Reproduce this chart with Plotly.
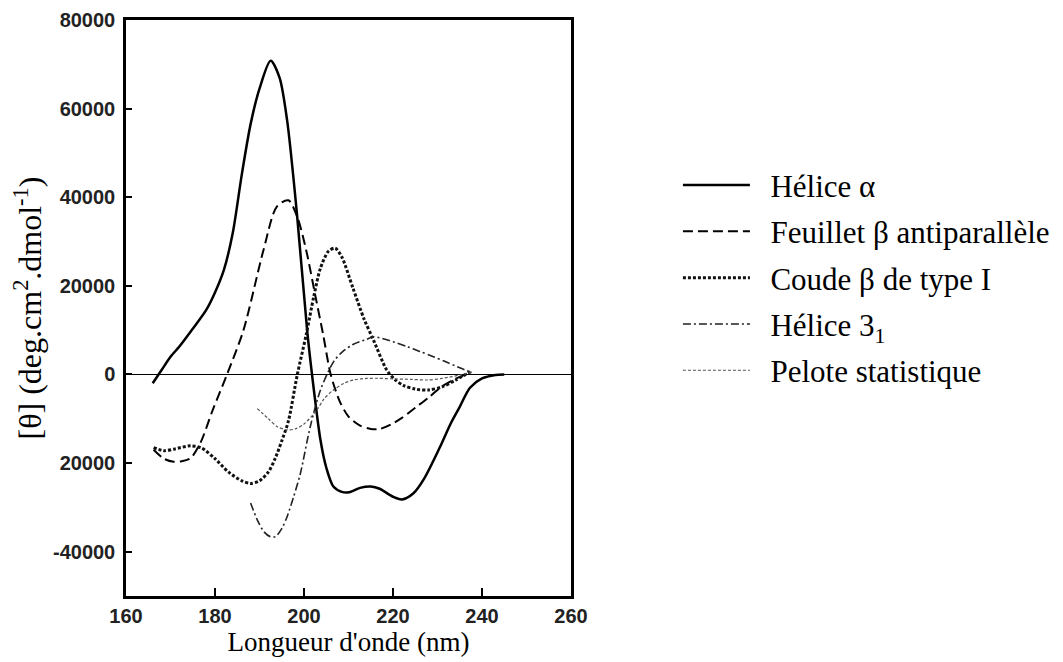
import plotly.graph_objects as go

# Wavelength (nm) and ellipticity values
helix_a_wl = [166, 168, 170, 172, 175, 178, 180, 182, 184, 186, 188, 190, 192.5, 194.5, 196.2, 198.4,
              200.7, 201.8, 203.7, 205, 206.6, 208.5, 210, 212.6, 215, 217, 220, 222, 224.6, 227,
              230.5, 233, 235, 237.3, 240, 243, 245]
helix_a_val = [-2000, 1000, 4000, 6300, 10300, 14500, 18500, 23600, 32000, 45000, 56500, 64500, 70800,
               67000, 57400, 36400, 10000, 0, -14800, -21000, -25300, -26500, -26600, -25600, -25300,
               -25800, -27600, -28200, -26800, -23500, -16500, -11000, -7300, -3000, -900, -100, 0]

sheet_wl = [166.2, 168.5, 170.7, 172.5, 174.5, 176.7, 179.5, 182.7, 186.4, 190.9, 193.9, 196.5, 198.5,
            200.5, 202.5, 204.3, 206, 208, 210, 212.5, 215, 217, 219.5, 222, 225, 228, 231, 234, 237.5]
sheet_val = [-17000, -19000, -19700, -19600, -18900, -15500, -8000, 0, 10000, 28100, 37900, 39300, 35500,
             28000, 18000, 9000, 0, -6000, -9500, -11500, -12300, -12300, -11300, -9800, -7500, -5200,
             -2700, -1000, 500]

turn_wl = [166.2, 168.5, 171, 174.5, 177, 180, 183, 186, 188, 190, 192, 193.5, 195, 196.5, 198.5, 200.5,
           202.2, 203.7, 205.5, 207, 208.5, 211, 213.5, 215.6, 218.6, 220.5, 222.4, 225, 228, 231, 234, 237.3]
turn_val = [-16500, -17200, -16800, -16100, -16600, -19000, -22000, -24000, -24600, -24000, -22000, -19000,
            -15000, -10500, 0, 9000, 17600, 24000, 27800, 28500, 26500, 19500, 12500, 7800, 1000, -1200,
            -2500, -3300, -3500, -2800, -1300, 600]

helix31_wl = [188, 189.5, 191, 192.4, 193.6, 195, 196.2, 197.7, 199.2, 201.4, 203.7, 206.6, 208.5, 211.1,
              214, 215.6, 219, 223.1, 226, 229.1, 232, 235, 237.3]
helix31_val = [-29000, -32800, -35500, -36600, -36600, -34800, -32100, -27500, -22300, -11800, -3500, 2800,
               5000, 6800, 7900, 8500, 7700, 6300, 5200, 4000, 2800, 1500, 600]

coil_wl = [189.5, 192, 194, 196.2, 198, 200, 202.9, 204.5, 206.6, 209, 211.1, 214, 216.4, 220, 224, 227.6,
           231, 235.1, 238]
coil_val = [-7700, -10000, -11800, -12500, -12300, -11200, -8000, -5500, -3500, -2000, -1250, -900, -860,
            -1000, -1100, -1250, -900, -100, 600]

series_names = ["Hélice α", "Feuillet β antiparallèle", "Coude β de type I", "Hélice 3<sub>1</sub>",
                "Pelote statistique"]

y_tickvals = [-40000, -20000, 0, 20000, 40000, 60000, 80000]
y_ticktext = ["-40000", "20000", "0", "20000", "40000", "60000", "80000"]
x_tickvals = [160, 180, 200, 220, 240, 260]

styles = [
    dict(color="black", width=2.5, dash="solid"),
    dict(color="black", width=2, dash="10px,5px"),
    dict(color="#111", width=3, dash="3px,2px"),
    dict(color="#222", width=1.6, dash="8px,3px,2px,3px"),
    dict(color="#555", width=1.2, dash="3px,2px"),
]
data = [(helix_a_wl, helix_a_val), (sheet_wl, sheet_val), (turn_wl, turn_val),
        (helix31_wl, helix31_val), (coil_wl, coil_val)]

fig = go.Figure()
for i, ((xs, ys), name, st) in enumerate(zip(data, series_names, styles)):
    fig.add_trace(go.Scatter(x=xs, y=ys, mode="lines", name="\u2002" + name, legendgroup=f"g{i}",
                             line=dict(shape="spline", smoothing=0.8, **st)))

tick_font = dict(family="Liberation Sans", size=20, color="#222", weight="bold")
# page body adds an 8px offset, so the figure is 8px smaller and margins compensate
fig.update_layout(
    width=1055, height=654,
    margin=dict(l=118, r=492, t=12, b=66),
    paper_bgcolor="white", plot_bgcolor="white",
    showlegend=True,
    legend=dict(xref="container", yref="container", x=0.635, y=0.770, xanchor="left", yanchor="top",
                font=dict(family="Liberation Serif", size=31, color="black"),
                itemwidth=67, tracegroupgap=3, bgcolor="rgba(0,0,0,0)"),
    xaxis=dict(range=[160, 260], tickvals=x_tickvals, ticks="inside", ticklen=8, tickwidth=1.5,
               tickcolor="black", showline=True, linecolor="black", linewidth=2.5, mirror=True,
               showgrid=False, zeroline=False, tickfont=tick_font, ticklabelstandoff=0,
               automargin=False,
               title=dict(text="Longueur d'onde (nm)\u2003", font=dict(family="Liberation Serif", size=27,
                                                                        color="black"), standoff=6)),
    yaxis=dict(range=[-50000, 80000], tickvals=y_tickvals, ticktext=y_ticktext, ticks="inside",
               ticklen=6, tickwidth=1.5, tickcolor="black", showline=True, linecolor="black",
               linewidth=2.5, mirror=True, showgrid=False, zeroline=True, zerolinecolor="black",
               zerolinewidth=1.3, tickfont=tick_font, ticklabelstandoff=4, automargin=False,
               title=dict(text="[θ] (deg.cm<sup>2</sup>.dmol<sup>-1</sup>)",
                          font=dict(family="Liberation Serif", size=32, color="black"), standoff=6)),
)

fig.write_html("out.html")
